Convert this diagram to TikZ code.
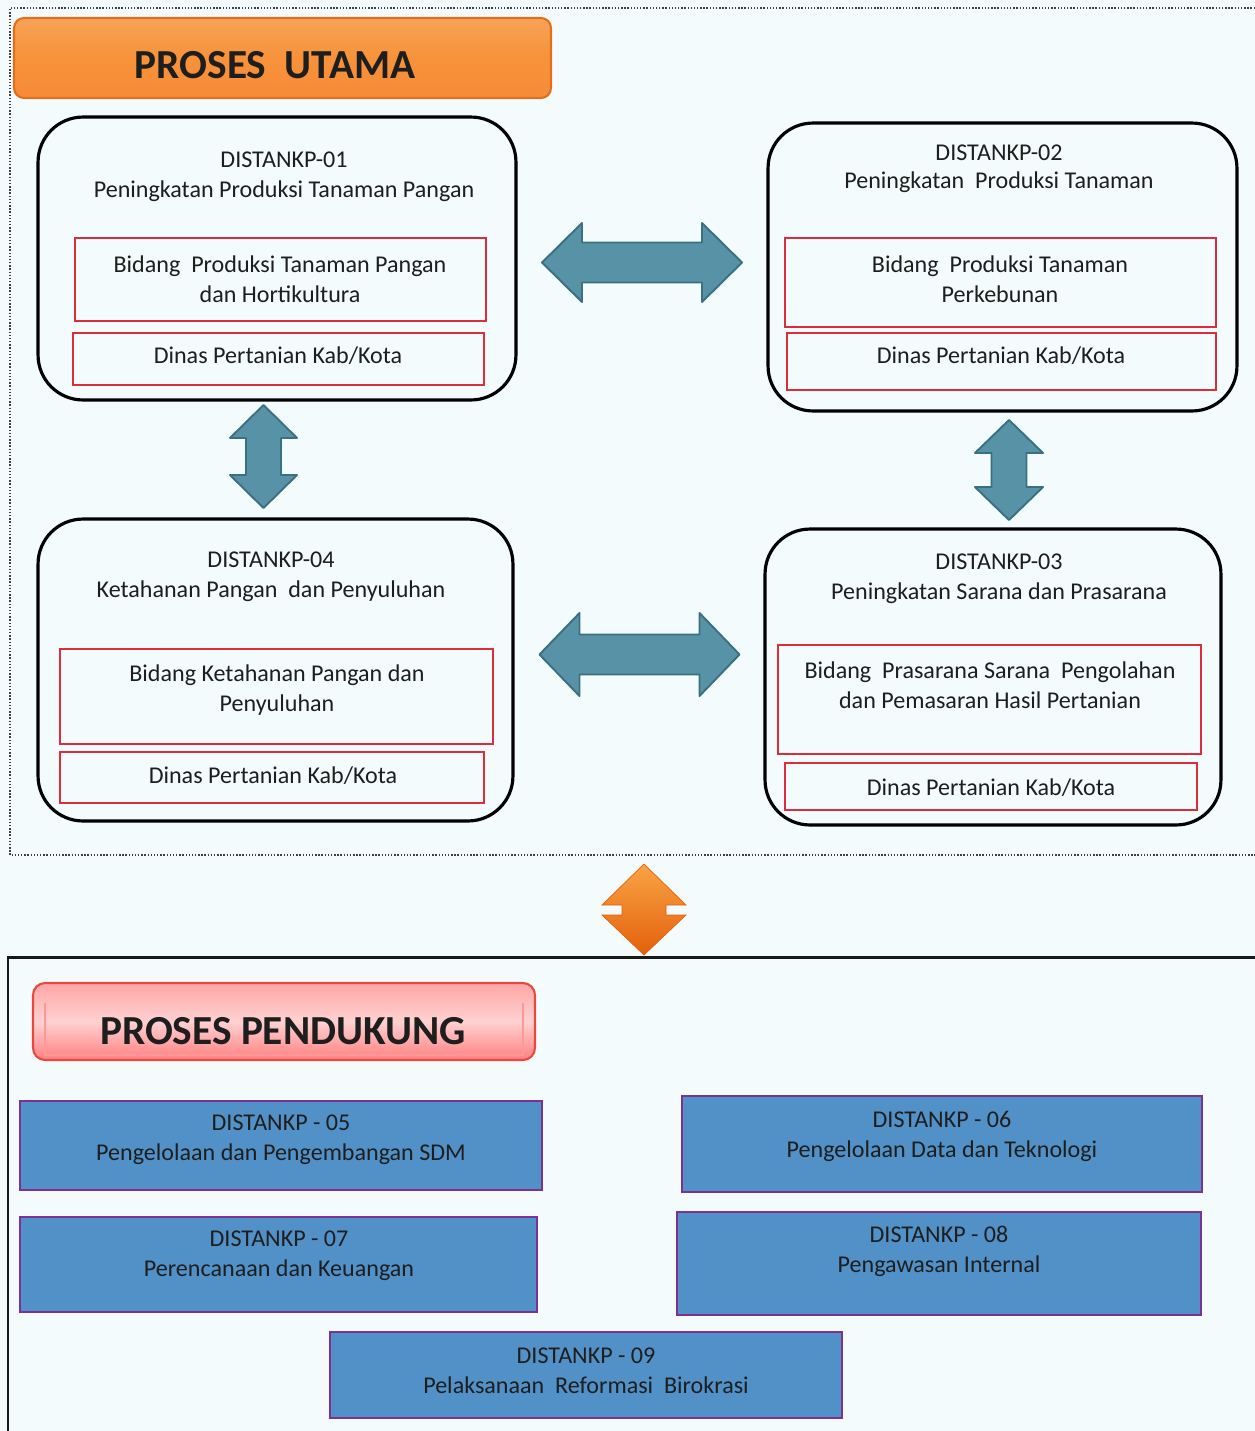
\documentclass[tikz,border=0pt]{standalone}
\usepackage{fontspec}
\setmainfont{Carlito}
\usetikzlibrary{shadings}
\definecolor{pagebg}{HTML}{F3FBFC}
\definecolor{txt}{HTML}{1E1E1E}
\definecolor{redline}{HTML}{DD2C3A}
\definecolor{arrfill}{HTML}{5892A6}
\definecolor{arrline}{HTML}{3A7181}
\definecolor{bluefill}{HTML}{5191C7}
\definecolor{purpleline}{HTML}{7A3296}
\definecolor{orangefill}{HTML}{F7923A}
\definecolor{orangeline}{HTML}{E0701E}
\definecolor{pinkline}{HTML}{E8483E}
\definecolor{orangetop}{HTML}{F9A444}
\definecolor{orangebot}{HTML}{E4600C}
\begin{document}
\begin{tikzpicture}[x=0.02cm,y=-0.02cm,
  every node/.style={inner sep=0pt, outer sep=0pt},
  lbl/.style={text=txt, align=center, font=\fontsize{13.7}{17}\selectfont},
  mainbox/.style={draw=black, line width=1.8pt, rounded corners=0.9cm},
  redbox/.style={draw=redline, line width=1.5pt},
  bluebox/.style={draw=purpleline, line width=1.1pt, fill=bluefill},
  blockarrow/.style={fill=arrfill, draw=arrline, line width=1.1pt, line join=round}
]
\useasboundingbox (0,0) rectangle (1255,1431);
\fill[pagebg] (0,0) rectangle (1255,1431);

% frames of the two sections
\draw[densely dotted, line width=0.8pt, black!75] (1255,8) -- (10,8) -- (10,855) -- (1255,855);
\draw[line width=1.7pt, black!90] (1255,957) -- (8,957) -- (8,1431);

% ---------- main process ----------
\node[draw=orangeline, line width=1.2pt, rounded corners=0.2cm, top color=orangefill!85!white, bottom color=orangefill!95!red, middle color=orangefill,
      minimum width=10.74cm, minimum height=1.6cm] (utama) at (282.5,58) {};
\node[text=txt, font=\fontsize{23.5}{28}\bfseries\selectfont] (tutama) at (275,65) {PROSES\ \ UTAMA};

\node[mainbox, minimum width=9.56cm, minimum height=5.66cm] (b1) at (277,258.5) {};
\node[mainbox, minimum width=9.38cm, minimum height=5.76cm] (b2) at (1002.5,267) {};
\node[mainbox, minimum width=9.5cm, minimum height=6.04cm] (b4) at (275.5,670) {};
\node[mainbox, minimum width=9.12cm, minimum height=5.92cm] (b3) at (993,677) {};

\node[redbox, minimum width=8.22cm, minimum height=1.66cm] (r1a) at (280.5,279.5) {};
\node[redbox, minimum width=8.22cm, minimum height=1.04cm] (r1b) at (278.5,359) {};
\node[redbox, minimum width=8.62cm, minimum height=1.78cm] (r2a) at (1000.5,282.5) {};
\node[redbox, minimum width=8.58cm, minimum height=1.14cm] (r2b) at (1001.5,361.5) {};
\node[redbox, minimum width=8.66cm, minimum height=1.9cm] (r4a) at (276.5,696.5) {};
\node[redbox, minimum width=8.48cm, minimum height=1.02cm] (r4b) at (272,777.5) {};
\node[redbox, minimum width=8.46cm, minimum height=2.18cm] (r3a) at (989.5,699.5) {};
\node[redbox, minimum width=8.24cm, minimum height=0.94cm] (r3b) at (991,786.5) {};

\node[lbl] (t1) at (284,177) {DISTANKP-01\\Peningkatan Produksi Tanaman Pangan};
\node[lbl] (t1a) at (280,279) {Bidang\ \ Produksi Tanaman Pangan\\dan Hortikultura};
\node[lbl] (t1b) at (278,356) {Dinas Pertanian Kab/Kota};

\node[lbl, font=\fontsize{13.7}{16}\selectfont] (t2) at (999,169) {DISTANKP-02\\Peningkatan\ \ Produksi Tanaman};
\node[lbl] (t2a) at (1000,279) {Bidang\ \ Produksi Tanaman\\Perkebunan};
\node[lbl] (t2b) at (1001,356) {Dinas Pertanian Kab/Kota};

\node[lbl] (t4) at (271,577) {DISTANKP-04\\Ketahanan Pangan\ \ dan Penyuluhan};
\node[lbl] (t4a) at (277,690) {Bidang Ketahanan Pangan dan\\Penyuluhan};
\node[lbl] (t4b) at (273,776) {Dinas Pertanian Kab/Kota};

\node[lbl] (t3) at (999,579) {DISTANKP-03\\Peningkatan Sarana dan Prasarana};
\node[lbl] (t3a) at (990,685) {Bidang\ \ Prasarana Sarana\ \ Pengolahan\\dan Pemasaran Hasil Pertanian};
\node[lbl] (t3b) at (991,788) {Dinas Pertanian Kab/Kota};

% two-way block arrows between the process boxes
\begin{scope}[shift={(642,262.5)}]
  \draw[blockarrow] (-100,0) -- (-60,-39.5) -- (-60,-20) -- (60,-20) -- (60,-39.5) -- (100,0)
    -- (60,39.5) -- (60,20) -- (-60,20) -- (-60,39.5) -- cycle;
\end{scope}
\begin{scope}[shift={(639.5,654.5)}]
  \draw[blockarrow] (-100,0) -- (-60,-41.5) -- (-60,-20) -- (60,-20) -- (60,-41.5) -- (100,0)
    -- (60,41.5) -- (60,20) -- (-60,20) -- (-60,41.5) -- cycle;
\end{scope}
\begin{scope}[shift={(263.5,456.5)}]
  \draw[blockarrow] (0,-51.5) -- (33.5,-18.5) -- (17.5,-18.5) -- (17.5,18.5) -- (33.5,18.5) -- (0,51.5)
    -- (-33.5,18.5) -- (-17.5,18.5) -- (-17.5,-18.5) -- (-33.5,-18.5) -- cycle;
\end{scope}
\begin{scope}[shift={(1009,470)}]
  \draw[blockarrow] (0,-50) -- (34,-17) -- (17.5,-17) -- (17.5,17) -- (34,17) -- (0,50)
    -- (-34,17) -- (-17.5,17) -- (-17.5,-17) -- (-34,-17) -- cycle;
\end{scope}

% orange up-down arrow linking the two sections
\shade[top color=orangetop, bottom color=orangebot, draw=orangebot, line width=0.4pt]
  (644,864) -- (686,905) -- (666,905) -- (666,915) -- (686,915) -- (644,955)
  -- (602,915) -- (622,915) -- (622,905) -- (602,905) -- cycle;

% ---------- supporting process ----------
\node[draw=pinkline, line width=1.2pt, rounded corners=0.24cm,
      top color=red!35!white, bottom color=red!50!white, middle color=red!18!white,
      minimum width=10.04cm, minimum height=1.54cm] (pendukung) at (284,1021.5) {};
\draw[red!40!white, line width=0.6pt] (45,1003) -- (45,1055) -- (523,1055) -- (523,1003);
\node[text=txt, font=\fontsize{23.5}{28}\bfseries\selectfont] (tpendukung) at (283,1031) {PROSES PENDUKUNG};

\node[bluebox, minimum width=10.44cm, minimum height=1.78cm] (s5) at (281,1145.5) {};
\node[bluebox, minimum width=10.4cm, minimum height=1.92cm] (s6) at (942,1144) {};
\node[bluebox, minimum width=10.34cm, minimum height=1.9cm] (s7) at (278.5,1264.5) {};
\node[bluebox, minimum width=10.48cm, minimum height=2.06cm] (s8) at (939,1263.5) {};
\node[bluebox, minimum width=10.24cm, minimum height=1.72cm] (s9) at (586,1375) {};

\node[lbl] (t5) at (281,1140) {DISTANKP - 05\\Pengelolaan dan Pengembangan SDM};
\node[lbl] (t6) at (942,1136) {DISTANKP - 06\\Pengelolaan Data dan Teknologi};
\node[lbl] (t7) at (279,1256) {DISTANKP - 07\\Perencanaan dan Keuangan};
\node[lbl] (t8) at (939,1251) {DISTANKP - 08\\Pengawasan Internal};
\node[lbl] (t9) at (586,1371) {DISTANKP - 09\\Pelaksanaan\ \ Reformasi\ \ Birokrasi};
\end{tikzpicture}
\end{document}
